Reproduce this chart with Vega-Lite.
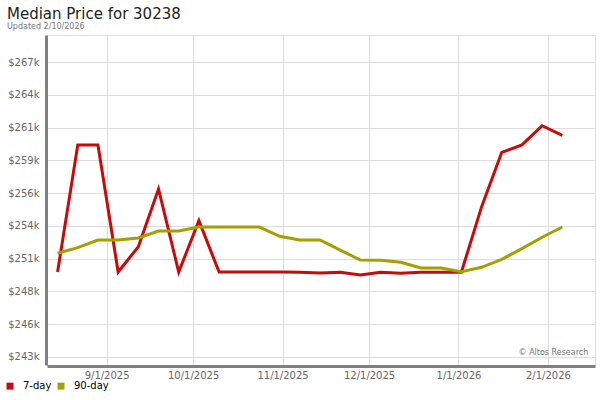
{
  "$schema": "https://vega.github.io/schema/vega-lite/v6.json",
  "autosize": {"type": "none"},
  "width": 548,
  "height": 330,
  "padding": {"left": 47, "top": 35, "right": 5, "bottom": 35},
  "background": "white",
  "title": {
    "text": "Median Price for 30238",
    "subtitle": "Updated 2/10/2026",
    "anchor": "start",
    "frame": "bounds",
    "dx": 2,
    "font": "DejaVu Sans",
    "fontSize": 15,
    "fontWeight": "normal",
    "color": "#222222",
    "subtitleFont": "DejaVu Sans",
    "subtitleFontSize": 8,
    "subtitleColor": "#777777",
    "subtitlePadding": 1,
    "offset": 4
  },
  "config": {
    "view": {"stroke": "#dddddd", "strokeWidth": 1},
    "font": "DejaVu Sans"
  },
  "datasets": {
    "prices": [
      {"date": "2025-08-15", "series": "7-day", "price": 250390},
      {"date": "2025-08-22", "series": "7-day", "price": 260550},
      {"date": "2025-08-29", "series": "7-day", "price": 260550},
      {"date": "2025-09-05", "series": "7-day", "price": 250390},
      {"date": "2025-09-12", "series": "7-day", "price": 252420},
      {"date": "2025-09-19", "series": "7-day", "price": 257030},
      {"date": "2025-09-26", "series": "7-day", "price": 250390},
      {"date": "2025-10-03", "series": "7-day", "price": 254500},
      {"date": "2025-10-10", "series": "7-day", "price": 250390},
      {"date": "2025-10-17", "series": "7-day", "price": 250390},
      {"date": "2025-10-24", "series": "7-day", "price": 250390},
      {"date": "2025-10-31", "series": "7-day", "price": 250390},
      {"date": "2025-11-07", "series": "7-day", "price": 250370},
      {"date": "2025-11-14", "series": "7-day", "price": 250310},
      {"date": "2025-11-21", "series": "7-day", "price": 250370},
      {"date": "2025-11-28", "series": "7-day", "price": 250150},
      {"date": "2025-12-05", "series": "7-day", "price": 250370},
      {"date": "2025-12-12", "series": "7-day", "price": 250300},
      {"date": "2025-12-19", "series": "7-day", "price": 250370},
      {"date": "2025-12-26", "series": "7-day", "price": 250370},
      {"date": "2026-01-02", "series": "7-day", "price": 250370},
      {"date": "2026-01-09", "series": "7-day", "price": 255600},
      {"date": "2026-01-16", "series": "7-day", "price": 259960},
      {"date": "2026-01-23", "series": "7-day", "price": 260550},
      {"date": "2026-01-30", "series": "7-day", "price": 262090},
      {"date": "2026-02-06", "series": "7-day", "price": 261320},
      {"date": "2025-08-15", "series": "90-day", "price": 251890},
      {"date": "2025-08-22", "series": "90-day", "price": 252340},
      {"date": "2025-08-29", "series": "90-day", "price": 252950},
      {"date": "2025-09-05", "series": "90-day", "price": 252950},
      {"date": "2025-09-12", "series": "90-day", "price": 253110},
      {"date": "2025-09-19", "series": "90-day", "price": 253670},
      {"date": "2025-09-26", "series": "90-day", "price": 253670},
      {"date": "2025-10-03", "series": "90-day", "price": 253990},
      {"date": "2025-10-10", "series": "90-day", "price": 253990},
      {"date": "2025-10-17", "series": "90-day", "price": 253990},
      {"date": "2025-10-24", "series": "90-day", "price": 253990},
      {"date": "2025-10-31", "series": "90-day", "price": 253250},
      {"date": "2025-11-07", "series": "90-day", "price": 252950},
      {"date": "2025-11-14", "series": "90-day", "price": 252950},
      {"date": "2025-11-21", "series": "90-day", "price": 252150},
      {"date": "2025-11-28", "series": "90-day", "price": 251350},
      {"date": "2025-12-05", "series": "90-day", "price": 251330},
      {"date": "2025-12-12", "series": "90-day", "price": 251170},
      {"date": "2025-12-19", "series": "90-day", "price": 250710},
      {"date": "2025-12-26", "series": "90-day", "price": 250710},
      {"date": "2026-01-02", "series": "90-day", "price": 250420},
      {"date": "2026-01-09", "series": "90-day", "price": 250770},
      {"date": "2026-01-16", "series": "90-day", "price": 251410},
      {"date": "2026-01-23", "series": "90-day", "price": 252260},
      {"date": "2026-01-30", "series": "90-day", "price": 253170},
      {"date": "2026-02-06", "series": "90-day", "price": 253990}
    ],
    "credit": [
      {"date": "2026-02-15", "price": 243920, "label": "© Altos Research"}
    ]
  },
  "layer": [
    {
      "data": {"name": "prices"},
      "mark": {"type": "line", "strokeWidth": 3, "strokeJoin": "miter"},
      "encoding": {
        "x": {
          "field": "date",
          "type": "temporal",
          "scale": {"type": "utc", "domain": [{"year": 2025, "month": 8, "date": 11, "hours": 8, "utc": true}, {"year": 2026, "month": 2, "date": 17, "hours": 8, "utc": true}], "nice": false},
          "axis": {
            "title": null,
            "labelExpr": "utcFormat(datum.value, '%-m/%-d/%Y')",
            "tickCount": "month",
            "grid": true,
            "gridColor": "#dddddd",
            "gridWidth": 1,
            "ticks": false,
            "domain": true,
            "domainColor": "#808080",
            "domainWidth": 3,
            "labelColor": "#666666",
            "labelFontSize": 10,
            "labelPadding": 4,
            "labelOverlap": false,
            "offset": 1
          }
        },
        "y": {
          "field": "price",
          "type": "quantitative",
          "scale": {"domain": [242960, 269340], "nice": false, "zero": false},
          "axis": {
            "title": null,
            "values": [243600, 246220, 248840, 251460, 254080, 256700, 259320, 261940, 264560, 267180],
            "tickCount": 20,
            "labelExpr": "'$' + floor(datum.value / 1000) + 'k'",
            "grid": true,
            "gridColor": "#dddddd",
            "gridWidth": 1,
            "ticks": false,
            "domain": true,
            "domainColor": "#808080",
            "domainWidth": 3,
            "labelColor": "#666666",
            "labelFontSize": 10,
            "labelPadding": 7,
            "labelOverlap": false,
            "offset": 1
          }
        },
        "color": {
          "field": "series",
          "type": "nominal",
          "scale": {"domain": ["7-day", "90-day"], "range": ["#c80a0a", "#a3a000"]},
          "legend": {
            "title": null,
            "orient": "none",
            "legendX": -42,
            "legendY": 346,
            "direction": "horizontal",
            "columns": 2,
            "symbolType": "square",
            "symbolSize": 12,
            "symbolStrokeWidth": 3.5,
            "labelFontSize": 10,
            "labelColor": "#000000",
            "columnPadding": 0,
            "labelOffset": 8
          }
        }
      }
    },
    {
      "data": {"name": "credit"},
      "mark": {"type": "text", "align": "right", "baseline": "middle", "fontSize": 8, "color": "#777777"},
      "encoding": {
        "x": {"field": "date", "type": "temporal"},
        "y": {"field": "price", "type": "quantitative"},
        "text": {"field": "label"}
      }
    }
  ]
}
